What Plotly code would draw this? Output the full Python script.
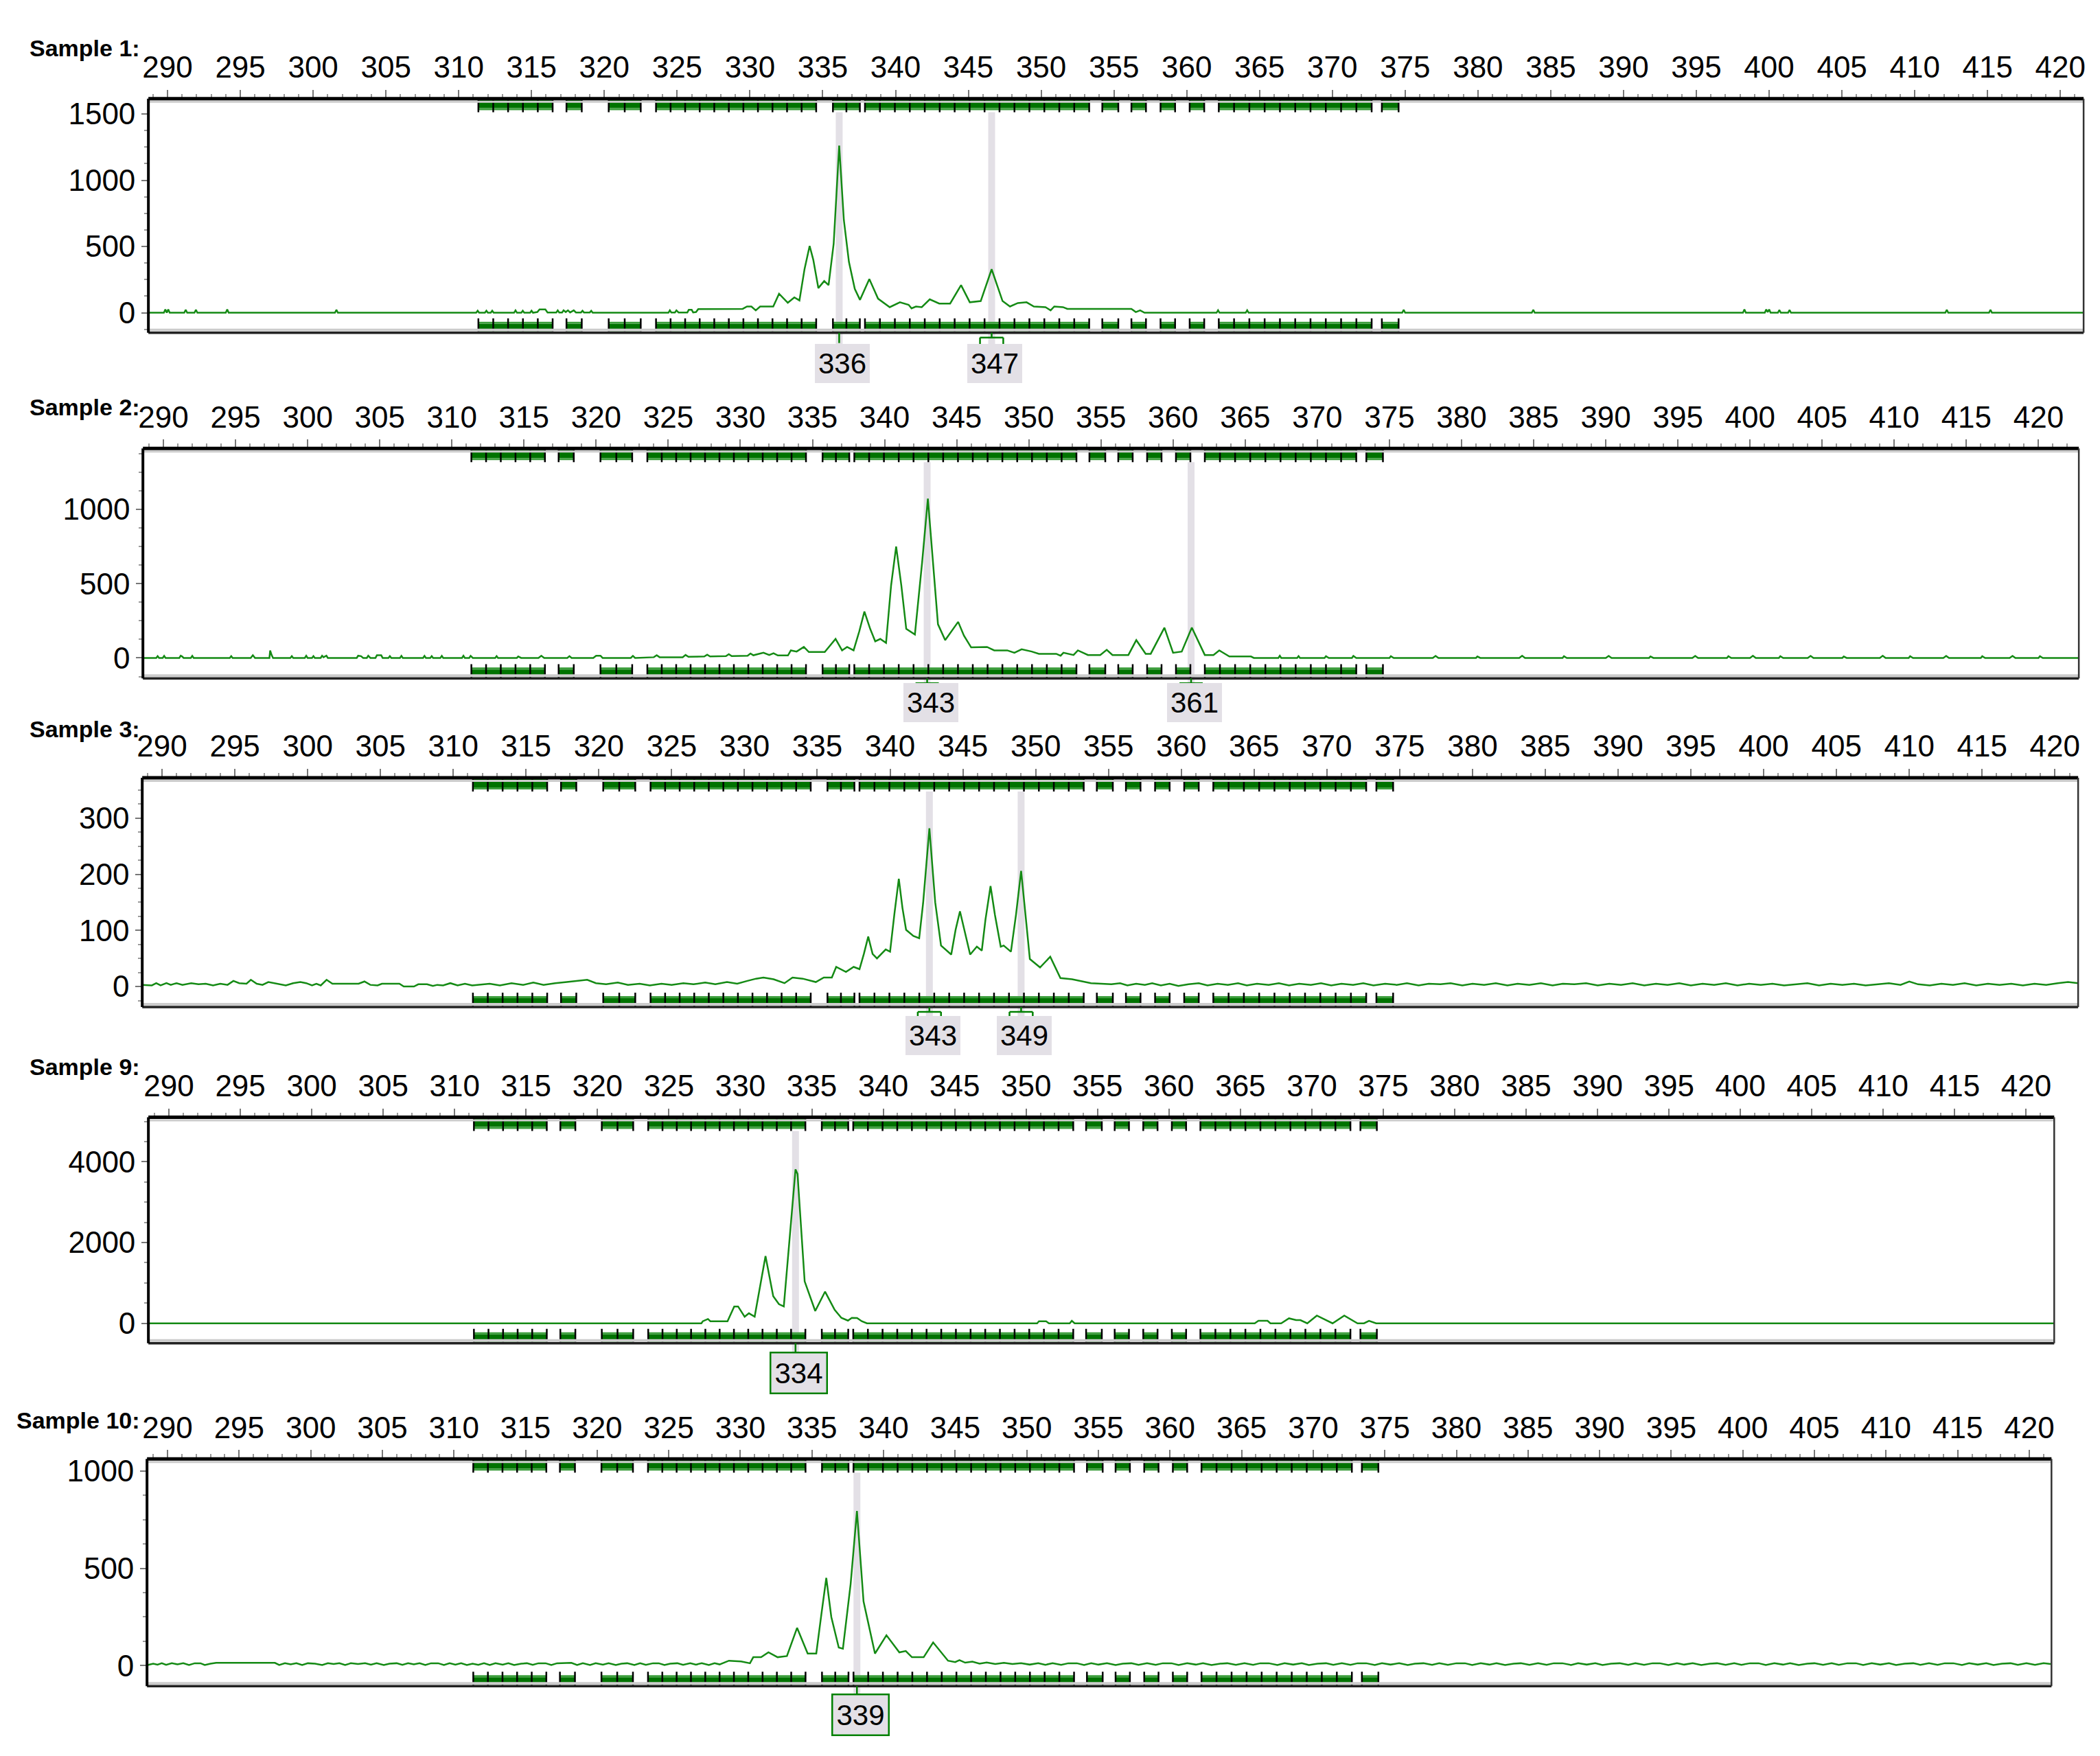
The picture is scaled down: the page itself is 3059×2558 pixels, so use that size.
import plotly.graph_objects as go

W, H = 3059, 2558

# ---------------- data ----------------
SAMPLE_NAMES = ["Sample 1:", "Sample 2:", "Sample 3:", "Sample 9:", "Sample 10:"]
X_TICKS = list(range(290, 425, 5))
Y_TICKS = [[0, 500, 1000, 1500], [0, 500, 1000], [0, 100, 200, 300], [0, 2000, 4000], [0, 500, 1000]]
Y_MINOR = [125, 125, 25, 500, 125]

# allele bins: (start bp, end bp, number of 1-bp bins)
BIN_GROUPS = [
    (311.35, 316.45, 5), (317.4, 318.45, 1), (320.3, 322.5, 2), (323.55, 334.55, 11),
    (335.7, 337.55, 2), (337.9, 353.3, 15), (354.2, 355.3, 1), (356.2, 357.2, 1),
    (358.2, 359.2, 1), (360.2, 361.2, 1), (362.2, 372.7, 10), (373.4, 374.55, 1),
]

SAMPLE1 = [
    (288.7, 0), (289.75, 0), (289.85, 25), (289.95, 0), (290.05, 25), (290.15, 0), (291.15, 0), (291.25, 22),
    (291.35, 0), (291.85, 0), (291.95, 22), (292.05, 0), (294.0, 0), (294.1, 25), (294.2, 0), (301.5, 0),
    (301.6, 22), (301.7, 0), (311.2, 0), (311.3, 15), (311.4, 0), (311.8, 0), (311.9, 15), (312.0, 0),
    (312.2, 0), (312.3, 15), (312.4, 0), (313.8, 0), (313.9, 18), (314.0, 0), (314.3, 0), (314.4, 15),
    (314.5, 0), (314.9, 0), (315.0, 15), (315.1, 0), (315.4, 5), (315.55, 25), (315.95, 25), (316.1, 2),
    (316.7, 2), (316.8, 18), (316.9, 2), (317.1, 2), (317.2, 18), (317.35, 5), (317.5, 18), (317.65, 2),
    (317.9, 18), (318.05, 2), (318.4, 2), (318.5, 15), (318.6, 2), (319.0, 2), (319.1, 15), (319.2, 0),
    (324.4, 0), (324.5, 18), (324.6, 2), (324.85, 2), (324.95, 18), (325.1, 2), (325.7, 2), (325.8, 22),
    (326.0, 22), (326.1, 2), (326.3, 5), (326.45, 27), (329.5, 29), (329.8, 47), (330.1, 47), (330.4, 18),
    (330.7, 47), (331.6, 47), (332.0, 143), (332.6, 75), (333.05, 116), (333.4, 93), (333.75, 330),
    (334.1, 504), (334.35, 400), (334.7, 186), (335.1, 239), (335.4, 208), (335.75, 520), (336.13, 1261),
    (336.45, 700), (336.8, 383), (337.2, 180), (337.56, 97), (338.2, 254), (338.8, 106), (339.6, 42),
    (340.3, 79), (340.9, 60), (341.1, 33), (341.4, 47), (341.8, 42), (342.35, 101), (343.0, 69),
    (343.75, 69), (344.5, 208), (345.1, 79), (345.85, 88), (346.6, 328), (347.35, 88), (347.86, 47),
    (348.4, 73), (349.0, 79), (349.5, 47), (350.3, 42), (350.65, 18), (350.9, 47), (351.5, 42), (351.8, 29),
    (356.2, 29), (356.5, 5), (356.8, 18), (357.1, 0), (362.05, 0), (362.15, 19), (362.25, 0), (364.05, 0),
    (364.15, 19), (364.25, 0), (374.8, 0), (374.9, 22), (375.0, 0), (383.7, 0), (383.8, 22), (383.9, 0),
    (398.2, 0), (398.3, 25), (398.4, 0), (399.7, 0), (399.8, 25), (399.9, 5), (400.0, 25), (400.1, 0),
    (400.6, 0), (400.7, 20), (400.8, 0), (401.3, 0), (401.4, 20), (401.5, 0), (412.1, 0), (412.2, 22),
    (412.3, 0), (415.1, 0), (415.2, 22), (415.3, 0), (421.6, 0),
]

SAMPLE2 = [
    (288.6, 0), (289.5, 0), (289.6, 12), (289.7, 0), (289.95, 0), (290.05, 14), (290.15, 0), (291.1, 0),
    (291.2, 15), (291.3, 10), (291.4, 0), (291.9, 0), (292.0, 14), (292.1, 0), (294.6, 0), (294.7, 12),
    (294.8, 0), (296.05, 0), (296.2, 18), (296.35, 0), (297.35, 0), (297.4, 50), (297.5, 20), (297.6, 0),
    (298.8, 0), (298.9, 12), (299.0, 0), (299.8, 0), (299.9, 15), (300.0, 0), (300.3, 0), (300.4, 12),
    (300.5, 0), (300.9, 0), (301.0, 15), (301.1, 5), (301.3, 15), (301.4, 0), (303.4, 0), (303.5, 15),
    (303.7, 12), (303.85, 0), (304.1, 0), (304.2, 15), (304.35, 0), (304.7, 0), (304.8, 18), (305.1, 18),
    (305.2, 0), (305.6, 0), (305.7, 12), (305.8, 0), (306.4, 0), (306.5, 14), (306.6, 0), (308.0, 0),
    (308.1, 14), (308.2, 0), (308.5, 0), (308.6, 12), (308.7, 0), (309.2, 0), (309.3, 14), (309.4, 0),
    (310.7, 0), (310.8, 15), (310.9, 0), (311.2, 0), (311.3, 14), (311.45, 0), (313.0, 0), (313.1, 12),
    (313.2, 0), (314.5, 0), (314.6, 10), (314.8, 0), (316.0, 0), (316.2, 15), (316.4, 0), (318.0, 0),
    (318.15, 12), (318.3, 0), (319.8, 0), (320.0, 15), (320.3, 15), (320.45, 0), (322.4, 0), (322.55, 14),
    (322.7, 0), (324.0, 5), (324.2, 18), (324.4, 5), (326.0, 5), (326.2, 20), (326.4, 8), (327.5, 10),
    (327.7, 22), (327.9, 10), (329.0, 12), (329.2, 25), (329.4, 12), (330.5, 15), (330.7, 30), (330.9, 18),
    (331.6, 35), (332.0, 20), (332.3, 32), (332.6, 17), (333.3, 17), (333.5, 51), (333.9, 43), (334.4, 74),
    (334.75, 40), (335.85, 40), (336.6, 128), (337.05, 51), (337.4, 74), (337.85, 51), (338.25, 181),
    (338.6, 312), (339.0, 196), (339.35, 112), (339.7, 128), (340.1, 101), (340.45, 488), (340.8, 750),
    (341.16, 488), (341.5, 196), (342.1, 158), (342.6, 642), (343.0, 1072), (343.35, 642), (343.7, 227),
    (344.2, 120), (345.1, 243), (345.5, 150), (346.0, 71), (347.1, 74), (347.6, 51), (348.5, 51),
    (349.0, 35), (349.5, 58), (350.2, 43), (350.7, 28), (351.9, 28), (352.2, 15), (352.4, 35), (353.1, 20),
    (353.4, 51), (354.1, 20), (354.95, 20), (355.4, 55), (355.8, 20), (356.9, 20), (357.45, 120),
    (358.1, 28), (358.45, 28), (359.4, 204), (360.0, 35), (360.6, 43), (361.3, 204), (362.2, 20),
    (362.8, 20), (363.2, 51), (363.9, 10), (365.4, 10), (365.6, 0), (367.3, 0), (367.4, 15), (367.5, 0),
    (368.6, 0), (368.7, 12), (368.8, 0), (370.5, 0), (370.6, 12), (370.8, 0), (372.4, 0), (372.5, 14),
    (372.7, 0), (375.0, 0), (375.1, 12), (375.3, 0), (378.0, 0), (378.2, 14), (378.4, 0), (381.0, 0),
    (381.1, 10), (381.3, 0), (384.0, 0), (384.2, 15), (384.4, 0), (387.0, 0), (387.1, 12), (387.3, 0),
    (390.0, 0), (390.2, 14), (390.4, 0), (393.0, 0), (393.1, 10), (393.3, 0), (396.0, 0), (396.2, 14),
    (396.4, 0), (398.4, 0), (398.5, 12), (398.7, 0), (400.0, 0), (400.2, 15), (400.4, 0), (402.0, 0),
    (402.1, 12), (402.3, 0), (404.0, 0), (404.2, 14), (404.4, 0), (406.4, 0), (406.5, 10), (406.7, 0),
    (409.0, 0), (409.2, 15), (409.4, 0), (411.0, 0), (411.1, 12), (411.3, 0), (413.4, 0), (413.6, 14),
    (413.8, 0), (416.0, 0), (416.1, 12), (416.3, 0), (418.0, 0), (418.2, 14), (418.4, 0), (420.0, 0),
    (420.1, 12), (420.3, 0), (422.8, 0),
]

SAMPLE3 = [
    (288.65, 3), (289.3, 2), (289.6, 6), (289.9, 2), (290.3, 6), (290.6, 3), (291.0, 6), (291.4, 3),
    (292.0, 6), (292.5, 4), (293.0, 5), (293.5, 2), (294.0, 5), (294.5, 3), (294.9, 10), (295.3, 6),
    (295.8, 5), (296.1, 12), (296.5, 5), (296.9, 3), (297.3, 8), (297.7, 6), (298.1, 4), (298.5, 2),
    (299.0, 6), (299.5, 8), (299.9, 6), (300.3, 2), (300.6, 5), (300.9, 2), (301.3, 12), (301.7, 5),
    (302.3, 5), (303.0, 5), (303.5, 5), (303.9, 9), (304.3, 3), (304.8, 2), (305.1, 5), (305.5, 5),
    (305.9, 5), (306.3, 5), (306.6, 0), (307.3, 0), (307.6, 4), (308.2, 4), (308.6, 1), (308.9, 3),
    (309.3, 2), (309.8, 6), (310.3, 2), (310.8, 5), (311.3, 2), (311.8, 3), (312.5, 5), (313.2, 2),
    (314.0, 6), (314.8, 3), (315.5, 7), (316.2, 3), (317.0, 6), (317.8, 8), (318.5, 10), (319.2, 12),
    (319.8, 6), (320.5, 4), (321.3, 7), (322.0, 3), (322.8, 5), (323.5, 2), (324.3, 5), (325.0, 3),
    (325.8, 6), (326.5, 4), (327.3, 7), (328.0, 4), (328.8, 8), (329.5, 5), (330.2, 10), (330.8, 14),
    (331.3, 16), (332.0, 13), (332.75, 6), (333.3, 16), (334.0, 14), (334.9, 8), (335.45, 16), (336.0, 16),
    (336.3, 35), (336.97, 26), (337.5, 35), (337.9, 31), (338.2, 58), (338.5, 89), (338.8, 58), (339.1, 50),
    (339.7, 66), (340.0, 62), (340.3, 130), (340.6, 192), (340.85, 140), (341.1, 101), (341.6, 90),
    (342.0, 86), (342.27, 149), (342.7, 282), (343.1, 150), (343.5, 73), (344.2, 57), (344.5, 101),
    (344.8, 134), (345.1, 101), (345.5, 57), (345.96, 71), (346.3, 64), (346.55, 119), (346.9, 179),
    (347.2, 128), (347.6, 71), (347.8, 73), (348.3, 62), (348.65, 128), (349.0, 206), (349.3, 128),
    (349.6, 49), (350.3, 34), (351.0, 53), (351.7, 15), (352.5, 13), (353.8, 6), (355.2, 4), (355.8, 6),
    (356.3, 2), (356.9, 5), (357.5, 3), (358.0, 6), (358.6, 2), (359.2, 5), (359.8, 1), (360.5, 4),
    (361.2, 6), (361.8, 2), (362.5, 5), (363.2, 3), (363.9, 6), (364.5, 2), (365.2, 5), (366.0, 3),
    (366.7, 6), (367.4, 2), (368.1, 5), (368.9, 3), (369.6, 6), (370.3, 2), (371.0, 5), (371.8, 3),
    (372.5, 6), (373.2, 2), (374.0, 5), (374.8, 3), (375.5, 6), (376.3, 2), (377.0, 5), (377.8, 4),
    (378.5, 6), (379.3, 2), (380.0, 5), (380.8, 3), (381.6, 6), (382.4, 2), (383.1, 5), (383.9, 3),
    (384.7, 6), (385.5, 2), (386.2, 5), (387.0, 4), (387.8, 6), (388.6, 2), (389.4, 5), (390.2, 3),
    (391.0, 6), (391.8, 2), (392.6, 5), (393.4, 3), (394.2, 6), (395.0, 2), (395.8, 5), (396.6, 3),
    (397.4, 6), (398.2, 2), (399.0, 5), (399.8, 3), (400.6, 5), (401.4, 2), (402.2, 4), (403.0, 6),
    (403.8, 2), (404.6, 5), (405.4, 3), (406.2, 5), (407.0, 2), (407.8, 4), (408.6, 6), (409.4, 3),
    (410.0, 9), (410.6, 4), (411.4, 2), (412.2, 5), (413.0, 3), (413.8, 6), (414.6, 2), (415.4, 5),
    (416.2, 3), (417.0, 5), (417.8, 2), (418.6, 5), (419.4, 3), (420.2, 6), (420.9, 8), (421.6, 6),
]

SAMPLE9 = [
    (288.5, 0), (327.27, 0), (327.37, 51), (327.73, 107), (327.9, 51), (329.1, 51), (329.57, 418),
    (329.84, 418), (330.3, 164), (330.6, 249), (331.0, 164), (331.76, 1664), (332.3, 673), (332.7, 475),
    (333.04, 418), (333.86, 3813), (334.0, 3700), (334.5, 1039), (335.24, 305), (335.93, 785), (336.6, 333),
    (337.07, 136), (337.53, 68), (337.8, 136), (338.17, 130), (338.5, 51), (338.86, 0), (350.77, 0),
    (350.9, 51), (351.4, 51), (351.6, 0), (353.05, 0), (353.2, 62), (353.4, 0), (366.0, 0), (366.26, 62),
    (366.9, 62), (367.1, 0), (367.85, 0), (368.4, 124), (368.9, 79), (369.2, 79), (369.68, 0),
    (370.35, 192), (371.45, 0), (372.27, 192), (373.2, 0), (373.65, 0), (374.0, 62), (374.5, 0), (422.0, 0),
]

SAMPLE10 = [
    (288.6, 3), (289.0, 10), (289.3, 5), (289.6, 12), (289.9, 4), (290.3, 12), (290.7, 6), (291.1, 12),
    (291.5, 3), (291.9, 12), (292.3, 12), (292.6, 3), (293.0, 10), (293.4, 14), (297.5, 14), (297.8, 3),
    (298.2, 12), (298.6, 6), (299.0, 12), (299.4, 3), (299.8, 12), (300.3, 10), (300.8, 3), (301.2, 12),
    (301.6, 8), (302.0, 12), (302.4, 3), (302.8, 12), (303.3, 8), (303.8, 12), (304.2, 5), (304.6, 12),
    (305.1, 3), (305.5, 10), (306.0, 12), (306.4, 4), (306.8, 12), (307.2, 6), (307.6, 12), (308.0, 3),
    (308.4, 12), (308.9, 12), (309.3, 3), (309.7, 12), (310.1, 5), (310.5, 12), (310.9, 3), (311.3, 10),
    (311.7, 4), (312.1, 12), (312.5, 3), (312.9, 12), (313.4, 5), (313.8, 12), (314.2, 3), (314.7, 10),
    (315.1, 12), (315.5, 4), (315.9, 12), (316.4, 12), (316.8, 3), (317.2, 12), (318.2, 14), (318.6, 3),
    (319.0, 12), (319.5, 3), (319.9, 12), (320.4, 5), (320.8, 12), (321.3, 3), (321.7, 10), (322.1, 12),
    (322.6, 3), (323.0, 12), (323.4, 4), (323.9, 12), (324.3, 12), (324.7, 3), (325.1, 10), (325.6, 12),
    (326.0, 4), (326.5, 12), (326.9, 5), (327.3, 12), (327.8, 3), (328.2, 12), (328.55, 6), (329.2, 25),
    (330.05, 21), (330.67, 12), (330.9, 43), (331.45, 43), (331.96, 68), (332.6, 43), (333.25, 49),
    (333.96, 194), (334.7, 62), (335.3, 62), (335.65, 260), (336.0, 451), (336.35, 250), (336.87, 93),
    (337.16, 87), (337.7, 420), (338.14, 795), (338.6, 330), (339.4, 62), (340.2, 156), (341.1, 68),
    (341.55, 75), (341.98, 43), (342.8, 43), (343.46, 119), (344.5, 25), (345.0, 18), (345.3, 28),
    (345.7, 15), (346.2, 20), (346.7, 10), (347.2, 16), (347.8, 8), (348.4, 14), (349.0, 8), (349.6, 12),
    (350.2, 5), (350.8, 12), (351.3, 4), (351.8, 12), (352.4, 4), (352.9, 12), (353.5, 12), (354.0, 3),
    (354.5, 12), (355.0, 5), (355.6, 12), (356.2, 3), (356.7, 10), (357.3, 12), (357.8, 4), (358.4, 12),
    (359.0, 4), (359.5, 12), (360.1, 12), (360.6, 3), (361.2, 12), (361.8, 5), (362.3, 12), (362.9, 3),
    (363.5, 10), (364.0, 12), (364.6, 4), (365.2, 12), (365.8, 4), (366.3, 12), (366.9, 12), (367.5, 3),
    (368.0, 12), (368.6, 5), (369.2, 12), (369.7, 3), (370.3, 10), (370.9, 12), (371.4, 4), (372.0, 12),
    (372.6, 4), (373.1, 12), (373.7, 12), (374.3, 3), (374.8, 12), (375.4, 5), (376.0, 12), (376.6, 3),
    (377.1, 10), (377.7, 12), (378.3, 4), (378.8, 12), (379.4, 4), (380.0, 12), (380.6, 12), (381.1, 3),
    (381.7, 12), (382.3, 5), (382.8, 12), (383.4, 3), (384.0, 10), (384.5, 12), (385.1, 4), (385.7, 12),
    (386.3, 4), (386.8, 12), (387.4, 12), (388.0, 3), (388.5, 12), (389.1, 5), (389.7, 12), (390.2, 3),
    (390.8, 10), (391.4, 12), (392.0, 4), (392.5, 12), (393.1, 4), (393.7, 12), (394.2, 12), (394.8, 3),
    (395.4, 12), (395.9, 5), (396.5, 12), (397.1, 3), (397.7, 10), (398.2, 12), (398.8, 4), (399.4, 12),
    (399.9, 4), (400.5, 12), (401.1, 12), (401.6, 3), (402.2, 12), (402.8, 5), (403.3, 12), (403.9, 3),
    (404.5, 10), (405.0, 12), (405.6, 4), (406.2, 12), (406.7, 4), (407.3, 12), (407.9, 12), (408.4, 3),
    (409.0, 12), (409.6, 5), (410.2, 12), (410.7, 3), (411.3, 10), (411.9, 12), (412.4, 4), (413.0, 12),
    (413.6, 4), (414.1, 12), (414.7, 12), (415.3, 3), (415.8, 12), (416.4, 5), (417.0, 12), (417.5, 3),
    (418.1, 10), (418.7, 12), (419.2, 4), (419.8, 12), (420.4, 4), (421.0, 12), (421.5, 8),
]

SAMPLES = [SAMPLE1, SAMPLE2, SAMPLE3, SAMPLE9, SAMPLE10]

PEAK_BP = [[336.13, 346.6], [342.95, 361.25], [342.7, 349.0], [333.86], [338.14]]
PEAK_CALLS = [["336", "347"], ["343", "361"], ["343", "349"], ["334"], ["339"]]

# ---------------- layout geometry (pixels) ----------------
PANELS = [
    dict(left=200, right=3031, top=129, bottom=471, x0=228, s=21.3, yr=(-151, 1616), title_y=55, call_y=516),
    dict(left=192, right=3024, top=640, bottom=976, x0=222, s=21.1, yr=(-138, 1410), title_y=580, call_y=1011),
    dict(left=191, right=3023, top=1121, bottom=1456, x0=220, s=21.3, yr=(-36.6, 372), title_y=1050, call_y=1498),
    dict(left=200, right=2988, top=1617, bottom=1947, x0=230, s=20.9, yr=(-492, 5102), title_y=1543, call_y=1990),
    dict(left=198, right=2984, top=2116, bottom=2448, x0=228, s=20.95, yr=(-106, 1063), title_y=2060, call_y=2490),
]
CALL_STYLE = [["plain", "bracket"], ["bracket", "bracket"], ["bracket", "bracket"], ["box"], ["box"]]

FONT = "Liberation Sans, Arial, sans-serif"
GREEN = "rgb(0,128,0)"
TRACE_GREEN = "rgb(20,138,20)"
DARK_BIN = "rgb(0,115,0)"
LIGHT_BIN = "rgb(60,158,60)"
PEAK_GREY = "#e3e0e6"

fig = go.Figure()
layout = dict(width=W, height=H, margin=dict(l=0, r=0, t=0, b=0, pad=0), barmode="overlay",
              paper_bgcolor="white", plot_bgcolor="rgba(0,0,0,0)", showlegend=False)
shapes = []
annotations = []

for i, p in enumerate(PANELS):
    n = "" if i == 0 else str(i + 1)
    xa, ya = "x" + n, "y" + n
    hp = p["bottom"] - p["top"]
    ymin, ymax = p["yr"]
    upp = (ymax - ymin) / hp
    xr = [290 + (p["left"] - p["x0"]) / p["s"], 290 + (p["right"] - p["x0"]) / p["s"]]

    layout["xaxis" + n] = dict(
        domain=[p["left"] / W, p["right"] / W], range=xr, anchor=ya, side="top",
        showgrid=False, zeroline=False, showline=False,
        tickmode="array", tickvals=X_TICKS, ticktext=[str(t) for t in X_TICKS],
        ticks="outside", ticklen=12, tickwidth=2, tickcolor="#777",
        tickfont=dict(family=FONT, size=44, color="black"),
        minor=dict(tick0=290, dtick=1, ticks="outside", ticklen=6, tickwidth=1.5, tickcolor="#999"),
        fixedrange=True,
    )
    layout["yaxis" + n] = dict(
        domain=[1 - p["bottom"] / H, 1 - p["top"] / H], range=[ymin, ymax], anchor=xa,
        showgrid=False, zeroline=False, showline=False,
        tickmode="array", tickvals=Y_TICKS[i], ticks="outside", ticklen=9, tickwidth=2, tickcolor="#777",
        tickfont=dict(family=FONT, size=44, color="black"),
        minor=dict(tick0=0, dtick=Y_MINOR[i], ticks="outside", ticklen=5, tickwidth=1.5, tickcolor="#999"),
        fixedrange=True,
    )

    # frame shading + frame
    shapes.append(dict(type="line", xref=xa + " domain", yref=ya + " domain", x0=0, x1=1,
                       y0=1 - 4.5 / hp, y1=1 - 4.5 / hp, line=dict(color="#cccccc", width=3)))
    shapes.append(dict(type="line", xref=xa + " domain", yref=ya + " domain", x0=0, x1=1,
                       y0=4 / hp, y1=4 / hp, line=dict(color="#cccccc", width=4)))
    shapes.append(dict(type="line", xref=xa + " domain", yref=ya + " domain", x0=0, x1=1, y0=1, y1=1,
                       line=dict(color="black", width=5)))
    shapes.append(dict(type="line", xref=xa + " domain", yref=ya + " domain", x0=0, x1=1, y0=0, y1=0,
                       line=dict(color="#222", width=3.5)))
    shapes.append(dict(type="line", xref=xa + " domain", yref=ya + " domain", x0=0, x1=0, y0=0, y1=1,
                       line=dict(color="black", width=4)))
    shapes.append(dict(type="line", xref=xa + " domain", yref=ya + " domain", x0=1, x1=1, y0=0, y1=1,
                       line=dict(color="#333", width=2.5)))

    # bins (bars with base)
    centers, widths, tx, ty = [], [], [], []
    for (st, en, cnt) in BIN_GROUPS:
        wbin = (en - st) / cnt
        edges = [st + k * wbin for k in range(cnt + 1)]
        for k in range(cnt):
            centers.append((edges[k] + edges[k + 1]) / 2)
            widths.append(wbin)
        for e in edges:
            tx += [e, e, None, e, e, None]
            ty += [ymax, ymax - 20 * upp, None, ymin, ymin + 21 * upp, None]
    nb = len(centers)
    row_specs = [
        (ymax - 14 * upp, 12 * upp, DARK_BIN), (ymax - 17 * upp, 3 * upp, LIGHT_BIN),
        (ymin + 2 * upp, 11 * upp, DARK_BIN), (ymin + 13 * upp, 3 * upp, LIGHT_BIN),
    ]
    for base, hgt, col in row_specs:
        fig.add_trace(go.Bar(x=centers, y=[hgt] * nb, base=[base] * nb, width=widths,
                             marker=dict(color=col, line=dict(width=0)), xaxis=xa, yaxis=ya,
                             hoverinfo="skip"))
    fig.add_trace(go.Scatter(x=tx, y=ty, mode="lines", line=dict(width=2.5, color="black"),
                             xaxis=xa, yaxis=ya, hoverinfo="skip"))

    # trace
    pts = SAMPLES[i]
    fig.add_trace(go.Scatter(x=[q[0] for q in pts], y=[q[1] for q in pts], mode="lines",
                             line=dict(color=TRACE_GREEN, width=2.5), xaxis=xa, yaxis=ya, hoverinfo="skip"))

    # sample title
    annotations.append(dict(xref="paper", yref="paper", x=190 / W, y=1 - p["title_y"] / H,
                            xanchor="right", yanchor="middle", showarrow=False,
                            text="<b>" + SAMPLE_NAMES[i] + "</b>",
                            font=dict(family=FONT, size=34, color="black")))

    # peak calls
    cy = p["call_y"]
    for bp, lab, style in zip(PEAK_BP[i], PEAK_CALLS[i], CALL_STYLE[i]):
        shapes.append(dict(type="line", xref=xa, yref="paper", x0=bp, x1=bp,
                           y0=1 - (p["top"] + 20) / H, y1=1 - (cy - 20) / H, layer="below",
                           line=dict(color=PEAK_GREY, width=10)))
        half = 17 / p["s"]
        ytop = p["bottom"] + 7
        if style == "bracket":
            shapes.append(dict(type="line", xref=xa, yref="paper", x0=bp, x1=bp,
                               y0=1 - p["bottom"] / H, y1=1 - ytop / H, line=dict(color=GREEN, width=2.5)))
            shapes.append(dict(type="line", xref=xa, yref="paper", x0=bp - half, x1=bp + half,
                               y0=1 - ytop / H, y1=1 - ytop / H, line=dict(color=GREEN, width=2.5)))
            shapes.append(dict(type="line", xref=xa, yref="paper", x0=bp - half, x1=bp - half,
                               y0=1 - ytop / H, y1=1 - (cy + 28) / H, line=dict(color=GREEN, width=2.5)))
            shapes.append(dict(type="line", xref=xa, yref="paper", x0=bp + half, x1=bp + half,
                               y0=1 - ytop / H, y1=1 - (ytop + 12) / H, line=dict(color=GREEN, width=2.5)))
        else:
            shapes.append(dict(type="line", xref=xa, yref="paper", x0=bp, x1=bp,
                               y0=1 - p["bottom"] / H, y1=1 - (cy - 30) / H, line=dict(color=GREEN, width=2.5)))
        annotations.append(dict(xref=xa, yref="paper", x=bp, y=1 - cy / H, xshift=5,
                                xanchor="center", yanchor="middle", showarrow=False, text=lab,
                                font=dict(family=FONT, size=42, color="black"),
                                bgcolor=PEAK_GREY, borderpad=5,
                                bordercolor=GREEN if style == "box" else "rgba(0,0,0,0)",
                                borderwidth=2.5 if style == "box" else 0))

layout["shapes"] = shapes
layout["annotations"] = annotations
fig.update_layout(**layout)
fig.write_html("out.html")
